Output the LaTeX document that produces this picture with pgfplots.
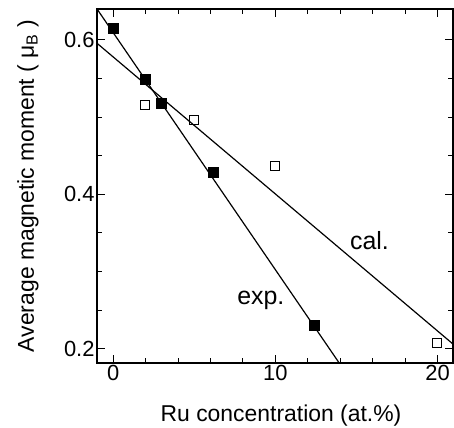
\documentclass[border=0pt]{standalone}
\usepackage{fontspec}
\setmainfont{Liberation Sans}
\usepackage{pgfplots}
\pgfplotsset{compat=1.18}

\begin{document}
\begin{tikzpicture}
\begin{axis}[
  scale only axis,
  width=356bp, height=354bp,
  xmin=-1, xmax=20.95,
  ymin=0.1815, ymax=0.64,
  xtick={0,10,20},
  ytick={0.2,0.4,0.6},
  minor xtick={2,4,6,8,12,14,16,18},
  minor ytick={0.25,0.3,0.35,0.45,0.5,0.55},
  yticklabel style={xshift=1bp,/pgf/number format/.cd,fixed,fixed zerofill,precision=1},
  /pgf/number format/assume math mode=true,
  tick align=inside,
  major tick length=8bp,
  minor tick length=5bp,
  every tick/.style={line width=1pt,black},
  axis line style={line width=1.3pt},
  tick label style={font=\fontsize{22}{25}\selectfont},
  xticklabel style={yshift=1bp},
  label style={font=\fontsize{23}{26}\selectfont},
  xlabel={Ru concentration (at.\%)},
  ylabel={Average magnetic moment ( μ\textsubscript{B} )},
  xlabel style={at={(rel axis cs:0.5,0)}, anchor=base, yshift=-58bp, xshift=6bp},
  ylabel style={at={(rel axis cs:0,0.5)}, anchor=base, yshift=63bp},
  clip=true,
]
\coordinate (sw) at (rel axis cs:0,0);
\coordinate (ne) at (rel axis cs:1,1);

% fitted trends
\addplot[black, line width=1.2pt] coordinates {(-1.5,0.6554) (14.5,0.1641)};
\addplot[black, line width=1.2pt] coordinates {(-1.5,0.6045) (21.5,0.1963)};

% measured
\addplot[only marks, mark=square*, mark size=5bp, mark options={fill=black, draw=black}]
  coordinates {(0,0.615) (2,0.549) (2.95,0.518) (6.15,0.428) (12.4,0.230)};

% calculated
\addplot[only marks, mark=square, mark size=4.5bp, mark options={draw=black, line width=0.9pt, fill=white}]
  coordinates {(1.95,0.516) (4.95,0.496) (9.95,0.437) (19.95,0.207)};

\node[font=\fontsize{25}{28}\selectfont] at (axis cs:15.8,0.340) {cal.};
\node[font=\fontsize{25}{28}\selectfont] at (axis cs:9.1,0.263) {exp.};
\end{axis}
\pgfresetboundingbox
\path ([xshift=-97bp,yshift=-65bp]sw) rectangle ([xshift=1bp,yshift=9bp]ne);
\end{tikzpicture}
\end{document}
